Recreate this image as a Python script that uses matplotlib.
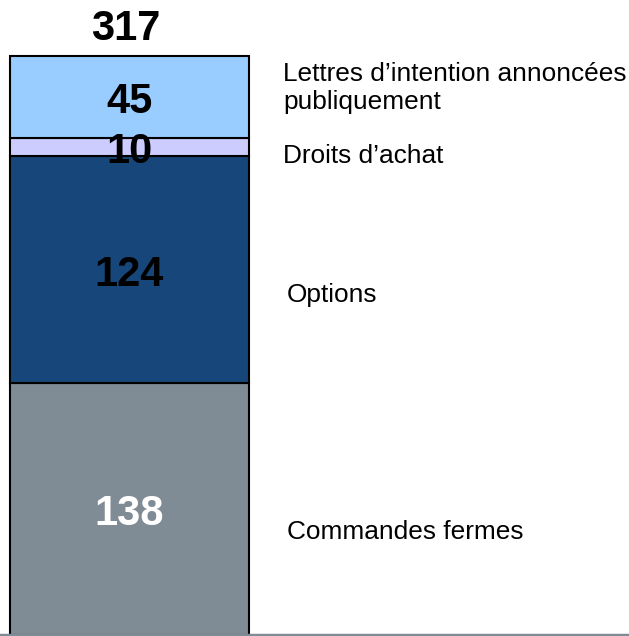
import numpy as np
import matplotlib.pyplot as plt

plt.rcParams['font.family'] = ['Liberation Sans', 'DejaVu Sans']

# Data
categories = ['Commandes fermes', 'Options', "Droits d\u2019achat",
              "Lettres d\u2019intention annonc\u00e9es\npubliquement"]
values = [138, 124, 10, 45]
colors = ['#808C95', '#17477A', '#CCCCFF', '#99CCFF']
value_colors = ['white', 'black', 'black', 'black']
total = sum(values)

# Layout (label baselines in data units, matched to reference)
label_y = [52.6, 182.3, 258.2, 288.0]
label_x = [0.659, 0.659, 0.642, 0.642]

fig = plt.figure(figsize=(6.29, 6.36), dpi=100)
ax = fig.add_axes([0, 0, 1, 1])

bottoms = np.concatenate(([0], np.cumsum(values)[:-1]))
ax.bar([0] * len(values), values, bottom=bottoms, width=1.0, color=colors,
       edgecolor='black', linewidth=1.5)

for b, v, c in zip(bottoms, values, value_colors):
    ax.annotate(str(v), (0, b + v / 2), xytext=(0, -11.5),
                textcoords='offset points', ha='center', va='baseline',
                fontsize=30, fontweight='bold', color=c)

ax.annotate(str(total), (-0.015, total), xytext=(0, 11.5),
            textcoords='offset points', ha='center', va='baseline',
            fontsize=30, fontweight='bold', color='black')

for cat, x, y in zip(categories, label_x, label_y):
    ax.text(x, y, cat, ha='left', va='baseline', fontsize=18.9,
            color='black', linespacing=1.2)

ax.axhline(0, color='#808C95', linewidth=2.5)

ax.set_xlim(-0.5 - 10 / 239, -0.5 - 10 / 239 + 629 / 239)
ax.set_ylim(-0.5, 635 / 1.8265)
ax.axis('off')

fig.savefig('out.png', dpi=100)
